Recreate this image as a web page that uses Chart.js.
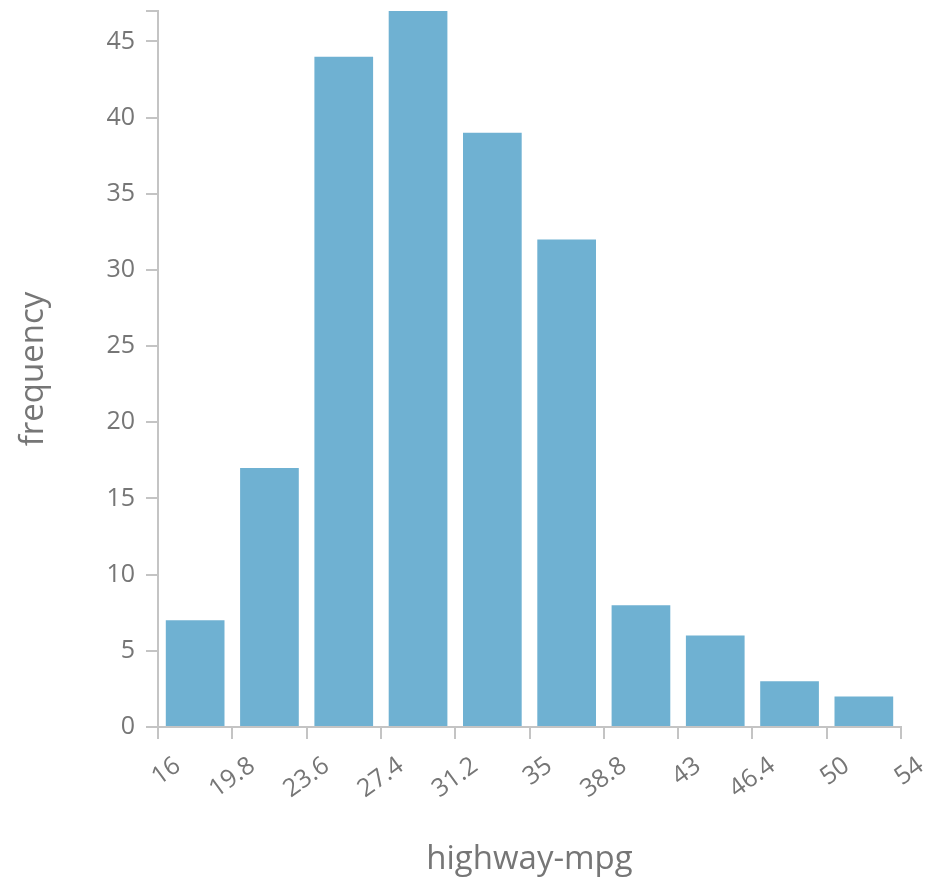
<!DOCTYPE html>
<html>
<head>
<meta charset="utf-8">
<script src="https://cdn.jsdelivr.net/npm/chart.js@4/dist/chart.umd.min.js"></script>
<style>
  html, body { margin: 0; padding: 0; background: #fff; }
  #wrap { width: 929px; height: 885px; }
</style>
</head>
<body>
<div id="wrap"><canvas id="chart1"></canvas></div>
<script>
// bin edges shown on the x axis
var binEdges = ['16', '19.8', '23.6', '27.4', '31.2', '35', '38.8', '43', '46.4', '50', '54'];
// count of cars in each bin
var counts = [7, 17, 44, 47, 39, 32, 8, 6, 3, 2];
var yMax = 47;

var textColor = '#767676';
var axisColor = '#c4c4c4';
var fontFamily = '"Open Sans", "Noto Sans", sans-serif';

function renderHistogram(edges, values, idChart){
  var points = values.map((v, i) => {
    return {x: i + 0.5, y: v}
  })
  var ctx = document.getElementById(idChart).getContext('2d');
  var histChart = new Chart(ctx, {
    type: 'bar',
    data: {
      datasets: [{
        label: 'frequency',
        data: points,
        backgroundColor: '#6fb1d2',
        borderWidth: 0,
        barPercentage: 0.79,
        categoryPercentage: 1.0
      }]
    },
    options: {
      responsive: true,
      maintainAspectRatio: false,
      animation: false,
      layout: { padding: { top: 11, right: 28, left: 0, bottom: 0 } },
      plugins: {
        legend: { display: false },
        tooltip: { enabled: false }
      },
      scales: {
        x: {
          type: 'linear',
          min: 0,
          max: edges.length - 1,
          offset: false,
          grid: { offset: false, drawOnChartArea: false, color: axisColor, tickLength: 12, lineWidth: 2 },
          border: { color: axisColor, width: 2 },
          ticks: {
            stepSize: 1,
            autoSkip: false,
            minRotation: 36,
            maxRotation: 36,
            padding: 12,
            labelOffset: 20,
            color: textColor,
            font: { family: fontFamily, size: 25 },
            callback: (v) => edges[v]
          },
          title: {
            display: true,
            text: 'highway-mpg',
            color: textColor,
            font: { family: fontFamily, size: 33 },
            padding: { top: 0, bottom: 6 }
          },
          afterFit: (s) => { s.height = 158; s.paddingLeft = 0; s.paddingRight = 0 }
        },
        y: {
          min: 0,
          max: yMax,
          grid: { drawOnChartArea: false, color: axisColor, tickLength: 12, lineWidth: 2 },
          border: { color: axisColor, width: 2 },
          ticks: {
            stepSize: 5,
            padding: 11,
            color: textColor,
            font: { family: fontFamily, size: 25 },
            callback: (v) => (v % 5 === 0 ? v : '')
          },
          title: {
            display: true,
            text: 'frequency',
            color: textColor,
            font: { family: fontFamily, size: 33 },
            padding: { top: 14, bottom: 0 }
          },
          afterFit: (s) => { s.width = 158; s.paddingTop = 0; s.paddingBottom = 0 }
        }
      }
    }
  });
}

renderHistogram(binEdges, counts, 'chart1');
</script>
</body>
</html>
